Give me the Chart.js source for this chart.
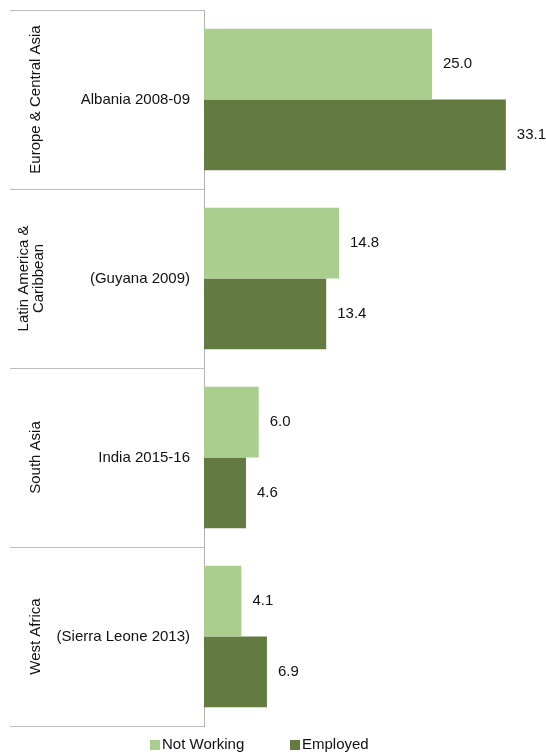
<!DOCTYPE html>
<html>
<head>
<meta charset="utf-8">
<script src="https://cdn.jsdelivr.net/npm/chart.js@4/dist/chart.umd.min.js"></script>
<style>
  html, body { margin: 0; padding: 0; background: #fff; }
  canvas { display: block; }
</style>
</head>
<body>
<canvas id="workChart" width="546" height="752"></canvas>
<script>
// regions (outer labels) and surveys (inner labels), one per bar pair
const regions = [
  ["Europe & Central Asia"],
  ["Latin America &", "Caribbean"],
  ["South Asia"],
  ["West Africa"],
];
const surveys = ["Albania 2008-09", "(Guyana 2009)", "India 2015-16", "(Sierra Leone 2013)"];
const notWorking = [25.0, 14.8, 6.0, 4.1];
const employed = [33.1, 13.4, 4.6, 6.9];
const seriesNames = ["Not Working", "Employed"];
const seriesColors = ["#A9CE8E", "#637B41"];

const FONT = "15px 'Liberation Sans', Arial, sans-serif";
const LINE = "#BDBDBD";

// region labels, separators between groups, value labels and the legend
const decorations = {
  id: "decorations",
  afterDatasetsDraw(chart) {
    const ctx = chart.ctx;
    ctx.save();
    ctx.font = FONT;
    ctx.fillStyle = "#111";
    ctx.textBaseline = "middle";
    ctx.textAlign = "left";
    chart.data.datasets.forEach((ds, i) => {
      chart.getDatasetMeta(i).data.forEach((bar, j) => {
        ctx.fillText(ds.data[j].toFixed(1), bar.x + 11, bar.y);
      });
    });
    ctx.restore();
  },
  afterDraw(chart) {
    const ctx = chart.ctx;
    const y = chart.scales.y;
    const left = chart.chartArea.left;
    const n = surveys.length;
    const step = (y.bottom - y.top) / n;

    ctx.save();
    ctx.strokeStyle = LINE;
    ctx.lineWidth = 1;
    for (let k = 0; k <= n; k++) {
      const py = Math.round(y.top + k * step) + 0.5;
      ctx.beginPath();
      ctx.moveTo(10, py);
      ctx.lineTo(left, py);
      ctx.stroke();
    }

    ctx.font = FONT;
    ctx.fillStyle = "#111";
    ctx.textAlign = "center";
    ctx.textBaseline = "middle";
    regions.forEach((lines, k) => {
      const cy = y.top + (k + 0.5) * step;
      const cx = lines.length > 1 ? 31 : 36;
      ctx.save();
      ctx.translate(cx, cy);
      ctx.rotate(-Math.PI / 2);
      lines.forEach((t, li) => {
        ctx.fillText(t, 0, (li - (lines.length - 1) / 2) * 15);
      });
      ctx.restore();
    });

    // legend along the bottom edge
    const legendX = [150, 290];
    const legendY = 745;
    ctx.textAlign = "left";
    seriesNames.forEach((name, i) => {
      ctx.fillStyle = seriesColors[i];
      ctx.fillRect(legendX[i], legendY - 5, 10, 10);
      ctx.fillStyle = "#111";
      ctx.fillText(name, legendX[i] + 12, legendY);
    });
    ctx.restore();
  },
};

new Chart(document.getElementById("workChart"), {
  type: "bar",
  data: {
    labels: surveys,
    datasets: [
      { label: seriesNames[0], data: notWorking, backgroundColor: seriesColors[0] },
      { label: seriesNames[1], data: employed, backgroundColor: seriesColors[1] },
    ],
  },
  options: {
    indexAxis: "y",
    responsive: false,
    animation: false,
    categoryPercentage: 0.79,
    barPercentage: 1,
    layout: { padding: { top: 10, bottom: 26, left: 0, right: 0 } },
    plugins: {
      legend: { display: false },
      tooltip: { enabled: false },
    },
    scales: {
      x: {
        display: false,
        min: 0,
        max: 37.5,
      },
      y: {
        afterFit(scale) {
          scale.width = 204;
          // labels sit mid-category, so no extra room above/below is needed
          scale.paddingTop = 0;
          scale.paddingBottom = 0;
        },
        grid: { display: false, drawTicks: false },
        border: { display: true, color: "#B3B3B3", width: 1 },
        ticks: {
          padding: 14,
          color: "#111",
          font: { family: "'Liberation Sans', Arial, sans-serif", size: 15 },
        },
      },
    },
  },
  plugins: [decorations],
});
</script>
</body>
</html>
